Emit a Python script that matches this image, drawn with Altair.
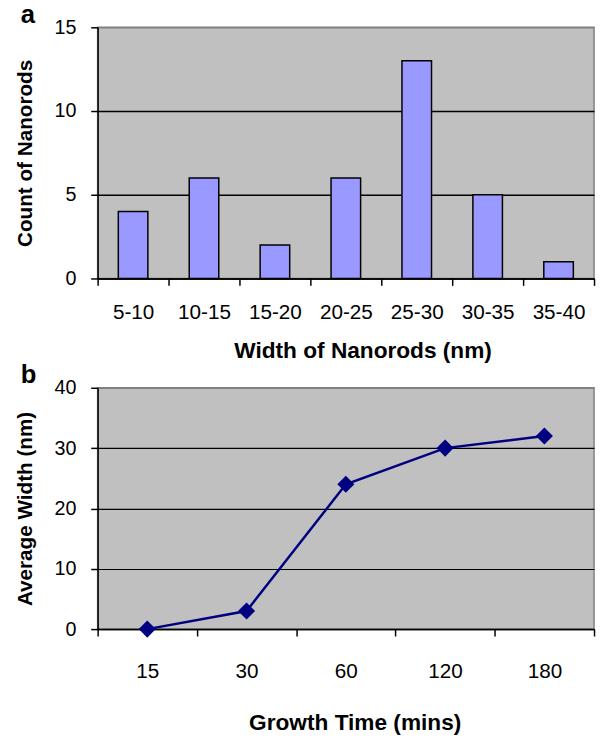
import altair as alt
import pandas as pd

# ---- data ----
width_bins = ["5-10", "10-15", "15-20", "20-25", "25-30", "30-35", "35-40"]
counts = [4, 6, 2, 6, 13, 5, 1]

growth_times = ["15", "30", "60", "120", "180"]
avg_widths = [0, 3, 24, 30, 32]

FONT = "Liberation Sans"
BG = "#C0C0C0"
BORDER = "#808080"
NAVY = "#000080"
BAR = "#9999FF"

df_a = pd.DataFrame({"bin": width_bins, "count": counts})
df_b = pd.DataFrame({"time": growth_times, "width": avg_widths})


def panel_letter(letter, y):
    return alt.Chart(alt.Data(values=[{"t": letter}])).mark_text(
        align="left", baseline="alphabetic", font=FONT, fontSize=26,
        fontWeight="bold", color="black",
    ).encode(text="t:N", x=alt.value(-78), y=alt.value(y))


x_axis_style = dict(
    labelFont=FONT, labelFontSize=21, labelColor="black",
    titleFont=FONT, titleFontSize=23, titleFontWeight="bold", titleColor="black",
    domainColor="black", domainWidth=1.5, tickColor="black", tickWidth=1.5,
    tickSize=7,
)
y_axis_style = dict(
    labelFont=FONT, labelFontSize=20, labelColor="black",
    titleFont=FONT, titleFontSize=21, titleFontWeight="bold", titleColor="black",
    domainColor="black", domainWidth=1.5, tickColor="black", tickWidth=1.5,
    tickSize=7,
)

grid_a = {"condition": {"test": "datum.value >= 15", "value": BORDER}, "value": "black"}
grid_b = {"condition": {"test": "datum.value >= 40", "value": BORDER}, "value": "black"}

bars_a = alt.Chart(df_a).mark_bar(
    size=30, color=BAR, stroke="black", strokeWidth=1.5
).encode(
    x=alt.X(
        "bin:N", sort=width_bins,
        scale=alt.Scale(paddingInner=0, paddingOuter=0),
        axis=alt.Axis(
            title="Width of Nanorods (nm)", labelAngle=0, tickBand="extent",
            labelPadding=34, labelBaseline="alphabetic",
            titleX=269, titleY=80, titleBaseline="alphabetic", titleAlign="center",
            **x_axis_style,
        ),
    ),
    y=alt.Y(
        "count:Q", scale=alt.Scale(domain=[0, 15], nice=False),
        axis=alt.Axis(
            title="Count of Nanorods", values=[0, 5, 10, 15], grid=True,
            gridColor=grid_a, gridWidth=1.5, labelPadding=15,
            titleX=-73, titleBaseline="middle",
            **y_axis_style,
        ),
    ),
)

chart_a = alt.layer(bars_a, panel_letter("a", -4)).properties(width=504, height=255)

base_b = alt.Chart(df_b).encode(
    x=alt.X(
        "time:N", sort=growth_times,
        scale=alt.Scale(paddingInner=0, paddingOuter=0),
        axis=alt.Axis(
            title="Growth Time (mins)", labelAngle=0, tickBand="extent",
            labelPadding=42, labelBaseline="alphabetic",
            titleX=261, titleY=102, titleBaseline="alphabetic", titleAlign="center",
            **x_axis_style,
        ),
    ),
    y=alt.Y(
        "width:Q", scale=alt.Scale(domain=[0, 40], nice=False),
        axis=alt.Axis(
            title="Average Width (nm)", values=[0, 10, 20, 30, 40], grid=True,
            gridColor=grid_b, gridWidth=1.2, labelPadding=15,
            titleX=-73, titleBaseline="middle",
            **y_axis_style,
        ),
    ),
)

line_b = base_b.mark_line(color=NAVY, strokeWidth=2.5)
pts_b = base_b.mark_point(shape="diamond", size=300, filled=True, color=NAVY, opacity=1)

chart_b = alt.layer(line_b, pts_b, panel_letter("b", -5)).properties(width=504, height=245)

chart = alt.vconcat(chart_a, chart_b, spacing=-2).configure_view(
    fill=BG, stroke=BORDER, strokeWidth=1.5
).properties(
    background="white",
    padding={"left": 6, "top": -12, "right": 0, "bottom": 0},
)

chart.save("out.html", embed_options={"renderer": "svg", "actions": False})
